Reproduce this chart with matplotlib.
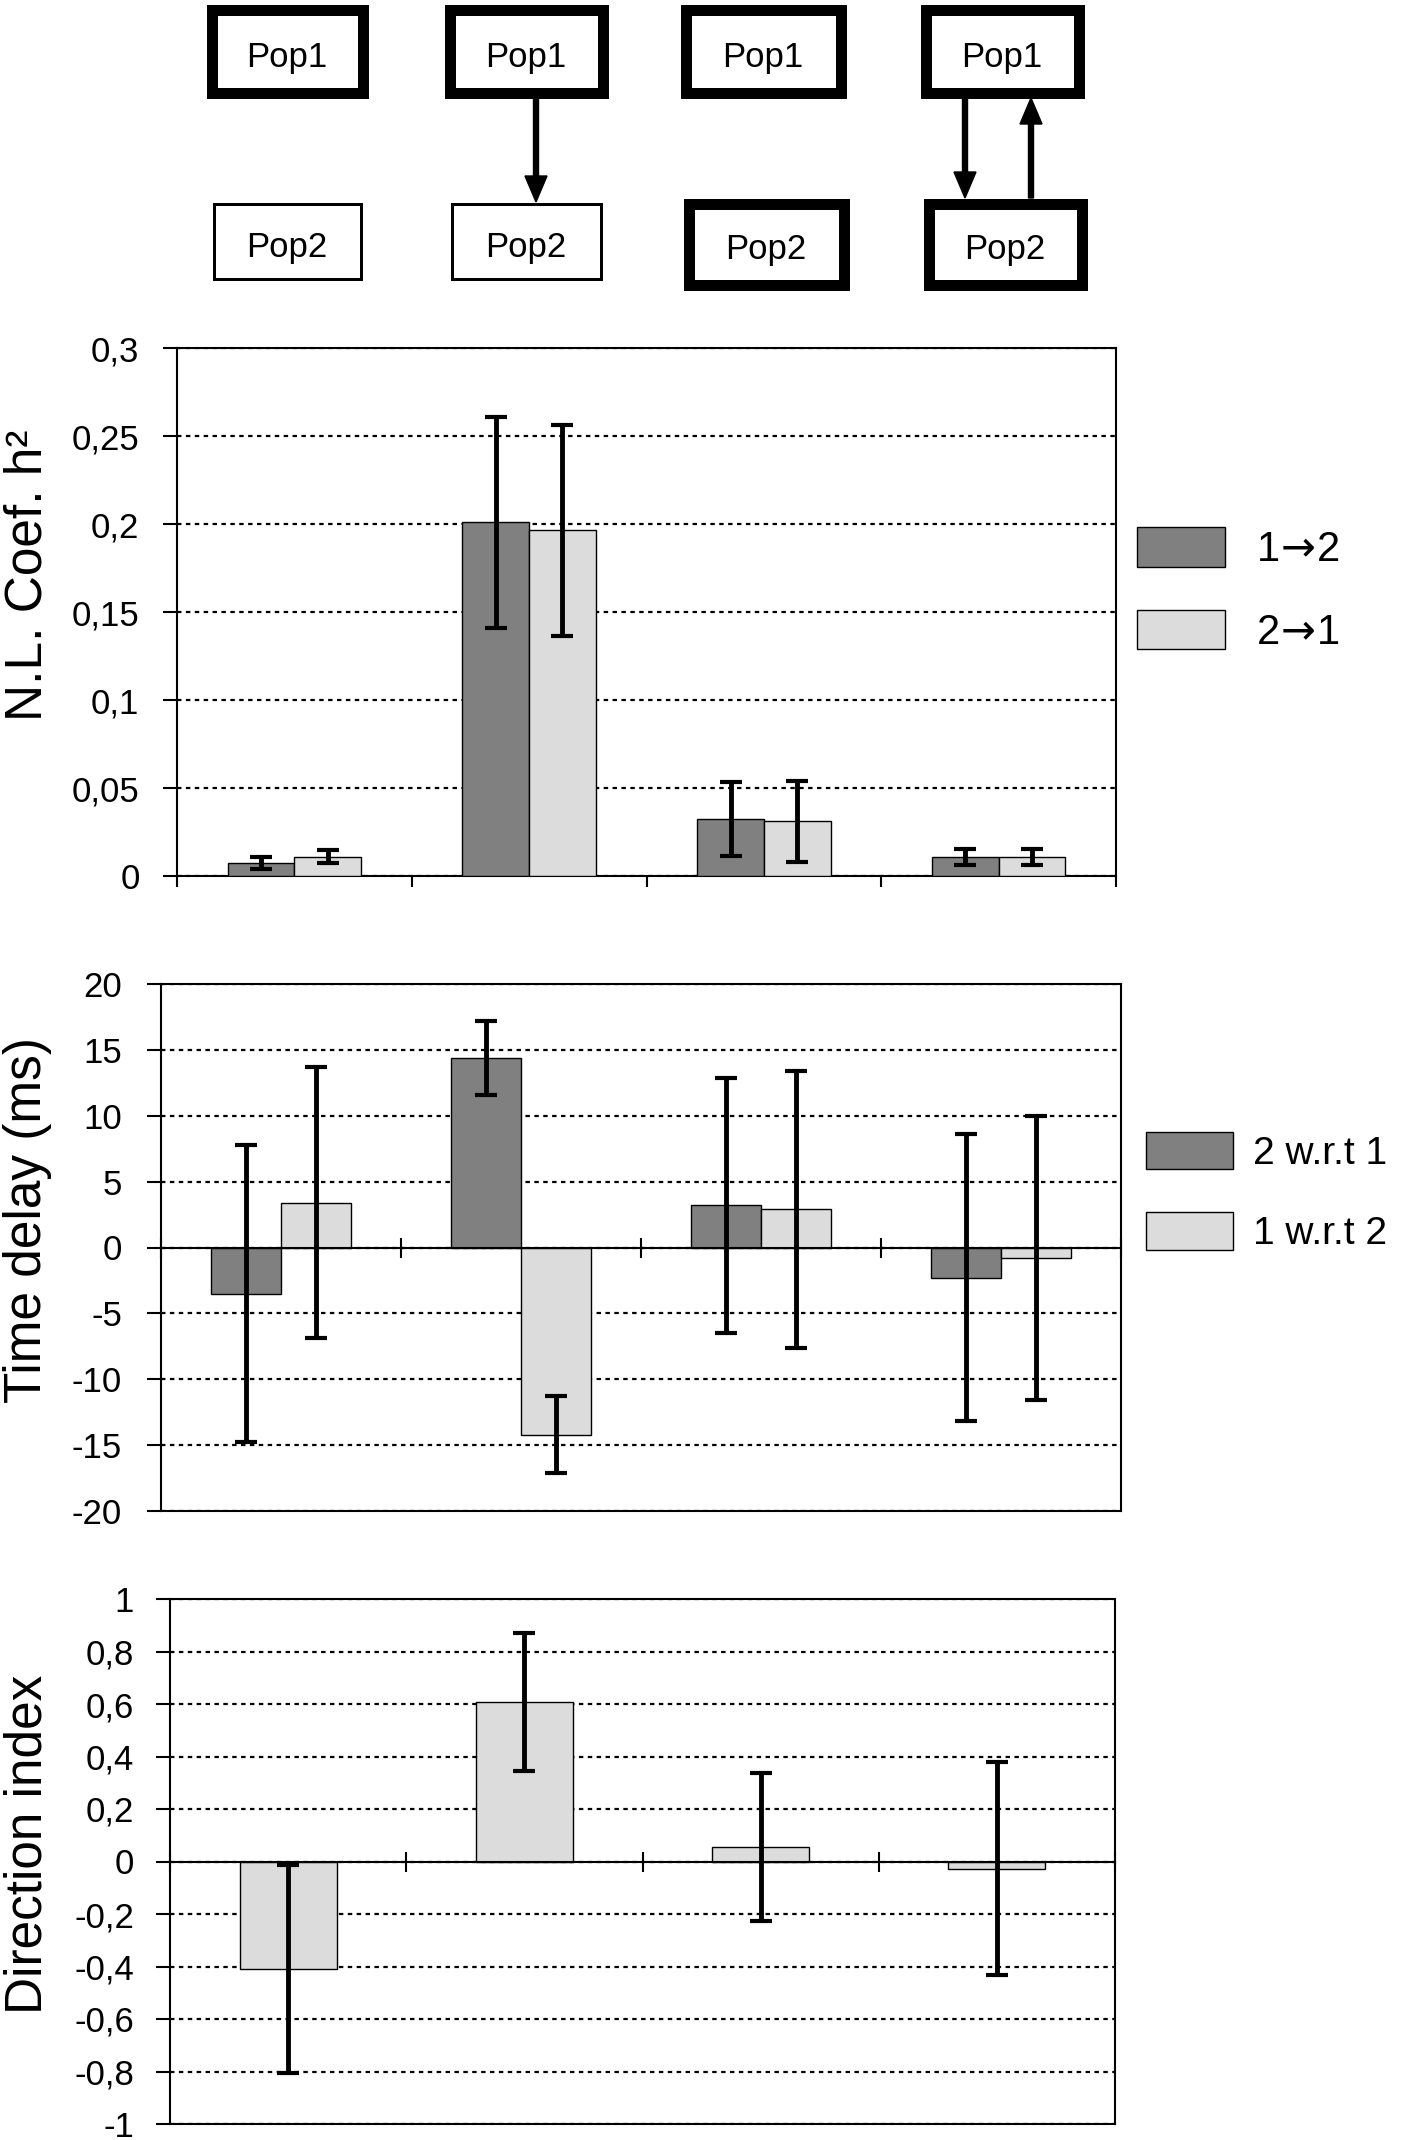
import numpy as np
import matplotlib
matplotlib.use('Agg')
from matplotlib import pyplot as plt
from matplotlib.patches import Rectangle

plt.rcParams['font.family'] = ['Liberation Sans', 'DejaVu Sans']
plt.rcParams['mathtext.fontset'] = 'dejavusans'

# data
categories = ['A', 'B', 'C', 'D']

nl_12 = [0.0074, 0.201, 0.0325, 0.011]
nl_12_err = [0.0035, 0.060, 0.021, 0.0045]
nl_21 = [0.011, 0.1965, 0.031, 0.011]
nl_21_err = [0.0035, 0.060, 0.023, 0.0045]

td_2wrt1 = [-3.5, 14.4, 3.2, -2.3]
td_2wrt1_err = [11.3, 2.8, 9.7, 10.9]
td_1wrt2 = [3.4, -14.2, 2.9, -0.8]
td_1wrt2_err = [10.3, 2.9, 10.5, 10.8]

dir_index = [-0.41, 0.608, 0.055, -0.027]
dir_index_err = [0.395, 0.262, 0.283, 0.407]

nl_ticks = [0, 0.05, 0.1, 0.15, 0.2, 0.25, 0.3]
nl_ticklabels = ['0', '0,05', '0,1', '0,15', '0,2', '0,25', '0,3']
td_ticks = [-20, -15, -10, -5, 0, 5, 10, 15, 20]
td_ticklabels = ['-20', '-15', '-10', '-5', '0', '5', '10', '15', '20']
di_ticks = [-1, -0.8, -0.6, -0.4, -0.2, 0, 0.2, 0.4, 0.6, 0.8, 1]
di_ticklabels = ['-1', '-0,8', '-0,6', '-0,4', '-0,2', '0', '0,2', '0,4', '0,6', '0,8', '1']

# diagram above the charts
top_labels = ['Pop1', 'Pop1', 'Pop1', 'Pop1']
bottom_labels = ['Pop2', 'Pop2', 'Pop2', 'Pop2']
top_thick = [True, True, True, True]
bottom_thick = [False, False, True, True]
arrows = [[], ['down'], [], ['down', 'up']]

W, H = 1418, 2140
DARK = '#808080'
LIGHT = '#dcdcdc'

fig = plt.figure(figsize=(W / 100, H / 100), dpi=100)


def px_axes(left, right, top, bottom):
    return fig.add_axes([left / W, 1 - bottom / H, (right - left) / W, (bottom - top) / H])


def style_axes(ax, ticks, ticklabels, pad):
    ax.set_yticks(ticks)
    ax.set_yticklabels(ticklabels)
    ax.set_ylim(ticks[0], ticks[-1])
    ax.set_xlim(-0.5, len(categories) - 0.5)
    ax.set_xticks(np.arange(len(categories) + 1) - 0.5)
    ax.set_xticklabels([])
    ax.tick_params(axis='y', direction='out', length=10, width=1.5, pad=pad, labelsize=25)
    ax.yaxis.grid(True, color='k', linestyle=(0, (2, 2)), linewidth=1.6)
    ax.set_axisbelow(True)
    for s in ax.spines.values():
        s.set_linewidth(1.5)


# ---- diagram ----
dax = fig.add_axes([0, 1 - 320 / H, 1, 320 / H])
dax.set_xlim(0, W)
dax.set_ylim(320, 0)
dax.axis('off')
col_x = [(206, 368), (444, 608), (680, 846), (920, 1084)]
for i in range(4):
    x0, x1 = col_x[i]
    # top box
    lw = 11 if top_thick[i] else 3
    dax.add_patch(Rectangle((x0 + lw / 2, 4 + lw / 2), x1 - x0 - lw, 94 - lw,
                            fill=False, lw=lw * 0.72, ec='k', joinstyle='miter'))
    dax.text((x0 + x1) / 2, 57, top_labels[i], ha='center', va='center', fontsize=25)
    # bottom box
    if bottom_thick[i]:
        lw, bx0, bx1, by0, by1 = 11, x0 + 3, x1 + 3, 198, 290
    else:
        lw, bx0, bx1, by0, by1 = 3, x0 + 6, x1 - 6, 202, 280
    dax.add_patch(Rectangle((bx0 + lw / 2, by0 + lw / 2), bx1 - bx0 - lw, by1 - by0 - lw,
                            fill=False, lw=lw * 0.72, ec='k', joinstyle='miter'))
    dax.text((bx0 + bx1) / 2, (by0 + by1) / 2 + 6, bottom_labels[i], ha='center', va='center', fontsize=25)
    # arrows
    mid = (x0 + x1) / 2
    if arrows[i] == ['down']:
        dax.arrow(mid + 10, 98, 0, by0 - 98, width=5, head_width=22, head_length=26,
                  length_includes_head=True, color='k')
    elif len(arrows[i]) == 2:
        dax.arrow(mid - 37, 98, 0, by0 - 98, width=5, head_width=22, head_length=26,
                  length_includes_head=True, color='k')
        dax.arrow(mid + 29, by0, 0, 98 - by0, width=5, head_width=22, head_length=26,
                  length_includes_head=True, color='k')

x = np.arange(len(categories))
ekw = dict(fmt='none', ecolor='k', elinewidth=3.5, capsize=8, capthick=3, zorder=4)

# ---- N.L. coefficient ----
ax1 = px_axes(177, 1116, 348, 876)
w1 = 0.284
ax1.bar(x - w1 / 2, nl_12, w1, color=DARK, edgecolor='k', linewidth=1, zorder=3,
        label='1$\\!\\rightarrow\\!$2')
ax1.bar(x + w1 / 2, nl_21, w1, color=LIGHT, edgecolor='k', linewidth=1, zorder=3,
        label='2$\\!\\rightarrow\\!$1')
ax1.errorbar(x - w1 / 2, nl_12, yerr=nl_12_err, **ekw)
ax1.errorbar(x + w1 / 2, nl_21, yerr=nl_21_err, **ekw)
style_axes(ax1, nl_ticks, nl_ticklabels, 17)
ax1.tick_params(axis='x', direction='out', length=8, width=1.5)
ax1.legend(loc='center left', bbox_to_anchor=(1137 / W, 1 - 590 / H), bbox_transform=fig.transFigure,
           frameon=False, fontsize=30, handlelength=2.11, handleheight=1.08,
           handletextpad=0.74, labelspacing=0.95, borderpad=0, borderaxespad=0)
fig.text(28 / W, 1 - 575 / H, 'N.L. Coef. h\u00b2', rotation=90, ha='center', va='center', fontsize=37)

# ---- time delay ----
ax2 = px_axes(161, 1121, 984, 1511)
w2 = 0.29
ax2.bar(x - w2 / 2, td_2wrt1, w2, color=DARK, edgecolor='k', linewidth=1, zorder=3, label='2 w.r.t 1')
ax2.bar(x + w2 / 2, td_1wrt2, w2, color=LIGHT, edgecolor='k', linewidth=1, zorder=3, label='1 w.r.t 2')
ax2.errorbar(x - w2 / 2, td_2wrt1, yerr=td_2wrt1_err, **ekw)
ax2.errorbar(x + w2 / 2, td_1wrt2, yerr=td_1wrt2_err, **ekw)
style_axes(ax2, td_ticks, td_ticklabels, 18)
ax2.spines['bottom'].set_position(('data', 0))
ax2.spines['bottom'].set_zorder(3.5)
ax2.plot([0, 1], [0, 0], color='k', lw=1.5, transform=ax2.transAxes, clip_on=False)
ax2.tick_params(axis='x', direction='inout', length=14, width=1.5)
ax2.legend(loc='center left', bbox_to_anchor=(1146 / W, 1 - 1192 / H), bbox_transform=fig.transFigure,
           frameon=False, fontsize=28, handlelength=2.24, handleheight=1.1,
           handletextpad=0.5, labelspacing=1.05, borderpad=0, borderaxespad=0)
fig.text(28 / W, 1 - 1220 / H, 'Time delay (ms)', rotation=90, ha='center', va='center', fontsize=37)

# ---- direction index ----
ax3 = px_axes(170, 1115, 1599, 2124)
w3 = 0.41
ax3.bar(x, dir_index, w3, color=LIGHT, edgecolor='k', linewidth=1, zorder=3)
ax3.errorbar(x, dir_index, yerr=dir_index_err, **ekw)
style_axes(ax3, di_ticks, di_ticklabels, 16)
ax3.spines['bottom'].set_position(('data', 0))
ax3.spines['bottom'].set_zorder(3.5)
ax3.plot([0, 1], [0, 0], color='k', lw=1.5, transform=ax3.transAxes, clip_on=False)
ax3.tick_params(axis='x', direction='inout', length=15, width=1.5)
fig.text(28 / W, 1 - 1844 / H, 'Direction index', rotation=90, ha='center', va='center', fontsize=37)

fig.savefig('out.png', dpi=100)
